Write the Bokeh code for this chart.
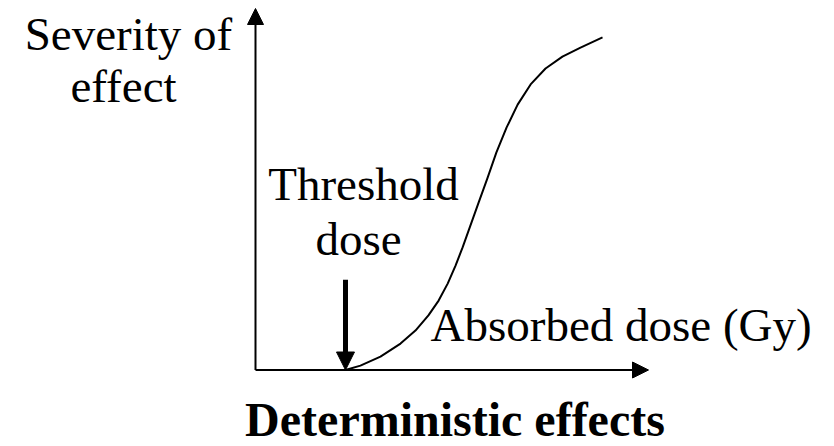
from bokeh.plotting import figure
from bokeh.models import Range1d, Arrow, NormalHead, Label, ColumnDataSource
from bokeh.embed import file_html
from bokeh.resources import INLINE

# ---- data (arbitrary units) ----
dose = [2.29, 2.67, 3.18, 3.69, 4.07, 4.40, 4.66, 4.89, 5.09, 5.27, 5.47, 5.67, 5.90,
        6.13, 6.39, 6.67, 7.00, 7.38, 7.81, 8.27, 8.83]
severity = [0.00, 0.12, 0.37, 0.73, 1.09, 1.51, 1.92, 2.39, 2.89, 3.39, 4.00, 4.61, 5.30,
            6.02, 6.71, 7.34, 7.90, 8.34, 8.67, 8.92, 9.20]
threshold_dose = 2.29
threshold_arrow_top = 2.5
axis_max_dose = 10.0
axis_max_severity = 10.0

y_label_lines = ["Severity of", "effect"]
threshold_lines = ["Threshold", "dose"]
x_label = "Absorbed dose (Gy)"
title = "Deterministic effects"

# ---- layout (picture pixel geometry) ----
W, H = 834, 446
OFF = 0                    # picture px of the figure's top-left corner
X0, Y0 = 255.0, 369.5      # picture px of the axes origin
SX, SY = 39.3, 36.15       # px per unit


def px_to_x(px):
    return (px - X0) / SX


def py_to_y(py):
    return (Y0 - py) / SY


p = figure(width=W, height=H, output_backend="svg", toolbar_location=None,
           x_range=Range1d(px_to_x(OFF), px_to_x(OFF + W)),
           y_range=Range1d(py_to_y(OFF + H), py_to_y(OFF)),
           x_axis_location=None, y_axis_location=None, min_border=0)
p.outline_line_color = None
p.grid.visible = False
p.background_fill_color = "white"
p.border_fill_color = "white"

# curve
src = ColumnDataSource(dict(x=dose, y=severity))
p.line("x", "y", source=src, line_color="black", line_width=2, line_join="round")

# axes as arrows
p.add_layout(Arrow(end=NormalHead(size=16, fill_color="black", line_color="black"),
                   x_start=0, y_start=0, x_end=axis_max_dose, y_end=0,
                   line_color="black", line_width=2))
p.add_layout(Arrow(end=NormalHead(size=16, fill_color="black", line_color="black"),
                   x_start=0, y_start=0, x_end=0, y_end=axis_max_severity,
                   line_color="black", line_width=2))

# threshold arrow
p.add_layout(Arrow(end=NormalHead(size=18, fill_color="black", line_color="black"),
                   x_start=threshold_dose, y_start=threshold_arrow_top,
                   x_end=threshold_dose, y_end=0,
                   line_color="black", line_width=5))

FONT = "Liberation Serif"


def add_label(text, px, py, align="center", bold=False, size="47px"):
    p.add_layout(Label(x=px_to_x(px), y=py_to_y(py), text=text,
                       text_font=FONT, text_font_size=size,
                       text_font_style="bold" if bold else "normal",
                       text_align=align, text_baseline="alphabetic",
                       text_color="black"))


add_label(y_label_lines[0], 128, 33)
add_label(y_label_lines[1], 123, 85)
add_label(threshold_lines[0], 363, 183)
add_label(threshold_lines[1], 358, 238)
add_label(x_label, 430, 324, align="left")
add_label(title, 454.5, 419, bold=True, size="48px")

open("out.html", "w").write(file_html(p, INLINE))
